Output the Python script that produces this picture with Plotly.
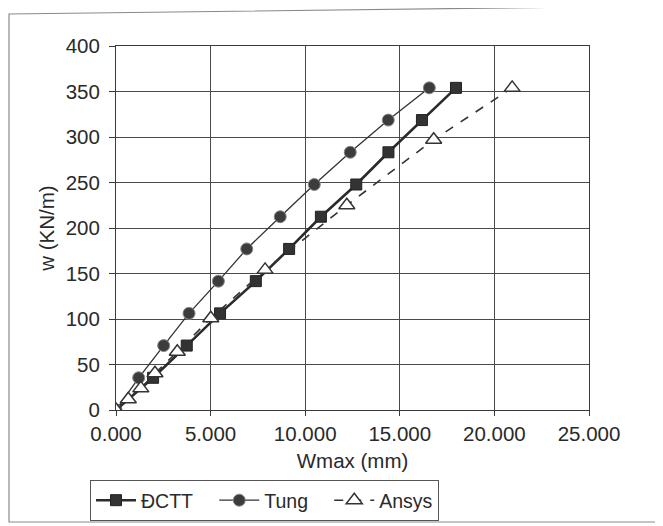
import plotly.graph_objects as go

# Data
load_levels = [0, 35.4, 70.8, 106.2, 141.6, 177, 212.4, 247.8, 283.2, 318.6, 354]
dctt_w = [0, 1.96, 3.74, 5.5, 7.39, 9.15, 10.83, 12.7, 14.4, 16.17, 17.97]
tung_w = [0, 1.2, 2.52, 3.86, 5.41, 6.91, 8.68, 10.48, 12.38, 14.39, 16.56]
ansys_load = [0, 11.8, 23.8, 40.3, 64, 100.8, 154, 225, 297, 354]
ansys_w = [0, 0.65, 1.31, 2.06, 3.24, 5.01, 7.88, 12.2, 16.79, 20.94]

x_ticks = [0, 5, 10, 15, 20, 25]
y_ticks = [0, 50, 100, 150, 200, 250, 300, 350, 400]

FONT = "Liberation Sans, Arial, sans-serif"
INK = "#2a2a2a"
FS = 20.5
LFS = 19.5
NB = "\u00a0\u00a0\u00a0"

W, H = 655, 518           # page body has an 8px margin
L, R, T, B = 108, 74, 38, 116
PW, PH = W - L - R, H - T - B

fig = go.Figure()
fig.add_trace(go.Scatter(
    x=dctt_w, y=load_levels, name="ĐCTT" + NB, mode="lines+markers",
    line=dict(color="#2b2b2b", width=2.6),
    marker=dict(symbol="square", size=11, color="#333333", line=dict(color="#222", width=1)),
))
fig.add_trace(go.Scatter(
    x=tung_w, y=load_levels, name="Tung" + NB, mode="lines+markers",
    line=dict(color="#333333", width=1.3),
    marker=dict(symbol="circle", size=12, color="#3c3c3c", line=dict(color="#888", width=1)),
))
fig.add_trace(go.Scatter(
    x=ansys_w, y=ansys_load, name="Ansys", mode="lines+markers",
    line=dict(color="#333333", width=1.6, dash="dash"),
    marker=dict(symbol="triangle-up", size=14, color="white", line=dict(color="#333", width=1.5)),
))

# outer frame, in paper coords of the plot area
def px(x):
    return (x - L) / PW

def py(y):
    return (H - B - y) / PH

frame_path = "M {:.4f} {:.4f} L {:.4f} {:.4f} L {:.4f} {:.4f} L {:.4f} {:.4f}".format(
    px(655), py(-2), px(1), py(6), px(1), py(514), px(655), py(514))
fig.add_shape(type="path", path=frame_path, xref="paper", yref="paper",
              line=dict(color="#8a8a8a", width=1.2), layer="below")

fig.update_layout(
    width=W, height=H,
    margin=dict(l=L, r=R, t=T, b=B),
    paper_bgcolor="white", plot_bgcolor="white",
    font=dict(family=FONT, size=FS, color=INK),
    showlegend=True,
    legend=dict(
        orientation="h", xref="container", yref="container",
        x=82 / W, y=1 - 472 / H, xanchor="left", yanchor="top",
        bordercolor="#555", borderwidth=1, bgcolor="white",
        font=dict(family=FONT, size=LFS, color=INK),
        itemwidth=40, tracegroupgap=0,
    ),
    xaxis=dict(
        range=[0, 25], tickvals=x_ticks, tickformat=".3f",
        showgrid=True, gridcolor="#4a4a4a", gridwidth=1,
        showline=True, linecolor="#3a3a3a", linewidth=1, mirror=True,
        ticks="outside", ticklen=5, tickcolor="#3a3a3a",
        ticklabelstandoff=0,
        zeroline=False,
        title=dict(text="Wmax (mm)", standoff=10, font=dict(size=FS)),
    ),
    yaxis=dict(
        range=[0, 400], tickvals=y_ticks,
        showgrid=True, gridcolor="#4a4a4a", gridwidth=1,
        showline=True, linecolor="#3a3a3a", linewidth=1, mirror=True,
        ticks="outside", ticklen=6, tickcolor="#3a3a3a",
        ticklabelstandoff=5,
        zeroline=False,
        title=dict(text="w (KN/m)", standoff=5, font=dict(size=FS)),
    ),
)

fig.write_html("out.html")
